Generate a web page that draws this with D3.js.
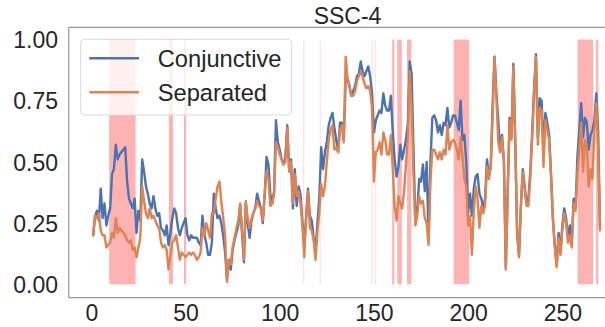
<!DOCTYPE html>
<html>
<head>
<meta charset="utf-8">
<script src="https://cdn.jsdelivr.net/npm/d3@7"></script>
<style>
  html, body { margin: 0; padding: 0; background: #fff; }
  svg { display: block; font-family: "Liberation Sans", Arial, sans-serif; }
</style>
</head>
<body>
<svg id="chart" width="605" height="327"></svg>
<script>
// SSC-4 similarity scores per step, two model variants
const conjunctive = [
  0.20,0.28,0.30,0.26,0.39,0.27,0.33,0.24,0.28,0.31,
  0.45,0.47,0.57,0.51,0.53,0.54,0.55,0.56,0.42,0.35,
  0.33,0.31,0.35,0.21,0.30,0.26,0.51,0.46,0.40,0.37,
  0.33,0.31,0.36,0.31,0.28,0.29,0.23,0.22,0.20,0.24,
  0.16,0.21,0.27,0.31,0.29,0.23,0.20,0.23,0.25,0.27,
  0.20,0.18,0.20,0.19,0.19,0.19,0.17,0.16,0.28,0.20,
  0.17,0.12,0.12,0.17,0.37,0.31,0.27,0.28,0.25,0.20,
  0.13,0.02,0.10,0.06,0.14,0.18,0.21,0.24,0.32,0.21,
  0.09,0.33,0.25,0.19,0.26,0.29,0.31,0.37,0.34,0.31,
  0.25,0.36,0.52,0.49,0.37,0.33,0.38,0.67,0.58,0.55,
  0.51,0.49,0.52,0.65,0.47,0.51,0.31,0.47,0.32,0.40,
  0.37,0.26,0.16,0.27,0.39,0.28,0.26,0.19,0.13,0.25,
  0.35,0.56,0.47,0.54,0.58,0.65,0.68,0.70,0.64,0.59,
  0.54,0.66,0.66,0.59,0.84,0.84,0.81,0.77,0.79,0.81,
  0.85,0.86,0.91,0.87,0.85,0.87,0.89,0.85,0.78,0.62,
  0.67,0.69,0.71,0.70,0.78,0.73,0.71,0.71,0.77,0.62,
  0.51,0.44,0.48,0.57,0.51,0.55,0.59,0.66,0.91,0.86,
  0.55,0.25,0.30,0.43,0.42,0.49,0.38,0.50,0.18,0.50,
  0.68,0.69,0.67,0.62,0.65,0.61,0.66,0.65,0.72,0.64,
  0.66,0.69,0.69,0.66,0.63,0.75,0.59,0.61,0.50,0.29,
  0.37,0.28,0.39,0.44,0.45,0.37,0.35,0.31,0.35,0.51,
  0.44,0.48,0.73,0.93,0.78,0.67,0.54,0.61,0.50,0.07,
  0.38,0.68,0.60,0.90,0.59,0.21,0.12,0.32,0.47,0.40,
  0.33,0.35,0.46,0.62,0.80,0.94,0.60,0.76,0.75,0.55,
  0.70,0.66,0.61,0.45,0.27,0.16,0.08,0.21,0.13,0.24,
  0.31,0.27,0.19,0.24,0.17,0.35,0.31,0.52,0.63,0.74,
  0.60,0.68,0.66,0.55,0.61,0.63,0.67,0.78,0.63,0.23
];

const separated = [
  0.20,0.28,0.27,0.29,0.22,0.20,0.20,0.15,0.16,0.17,
  0.21,0.19,0.27,0.21,0.23,0.22,0.21,0.20,0.18,0.17,
  0.18,0.14,0.15,0.11,0.15,0.19,0.40,0.34,0.29,0.27,
  0.31,0.27,0.28,0.26,0.24,0.23,0.17,0.15,0.16,0.14,
  0.06,0.12,0.17,0.18,0.20,0.15,0.10,0.13,0.12,0.11,
  0.12,0.13,0.12,0.13,0.12,0.10,0.11,0.13,0.23,0.20,
  0.25,0.22,0.19,0.29,0.29,0.35,0.40,0.42,0.34,0.27,
  0.20,0.01,0.10,0.08,0.15,0.19,0.23,0.26,0.33,0.22,
  0.10,0.34,0.27,0.23,0.27,0.29,0.31,0.34,0.32,0.31,
  0.26,0.37,0.46,0.43,0.32,0.33,0.37,0.58,0.56,0.53,
  0.51,0.49,0.50,0.64,0.46,0.50,0.33,0.45,0.36,0.38,
  0.33,0.25,0.11,0.27,0.38,0.23,0.22,0.18,0.10,0.21,
  0.29,0.41,0.36,0.40,0.50,0.59,0.63,0.65,0.55,0.56,
  0.54,0.63,0.65,0.58,0.93,0.84,0.81,0.77,0.77,0.79,
  0.83,0.85,0.87,0.85,0.82,0.80,0.81,0.79,0.72,0.42,
  0.54,0.55,0.58,0.53,0.62,0.59,0.53,0.53,0.61,0.47,
  0.32,0.26,0.36,0.33,0.31,0.38,0.49,0.60,0.87,0.72,
  0.45,0.24,0.28,0.36,0.33,0.34,0.27,0.25,0.16,0.42,
  0.55,0.55,0.53,0.51,0.54,0.51,0.55,0.53,0.65,0.55,
  0.58,0.59,0.58,0.55,0.51,0.60,0.52,0.43,0.40,0.24,
  0.28,0.12,0.30,0.40,0.35,0.23,0.32,0.29,0.32,0.48,
  0.43,0.48,0.69,0.93,0.76,0.58,0.54,0.60,0.50,0.06,
  0.37,0.67,0.59,0.89,0.58,0.21,0.11,0.32,0.46,0.39,
  0.32,0.32,0.44,0.60,0.78,0.93,0.57,0.72,0.71,0.48,
  0.67,0.63,0.59,0.44,0.26,0.15,0.07,0.19,0.12,0.22,
  0.29,0.25,0.17,0.20,0.15,0.33,0.30,0.45,0.55,0.66,
  0.46,0.59,0.56,0.40,0.47,0.43,0.62,0.74,0.55,0.22
];

// step numbers 1..N
const steps = conjunctive.map((_, i) => i + 1);

// highlighted step ranges
const flagBands = [
  [9.5, 23.5], [41.2, 43.4], [49.2, 50.3],
  [159.7, 160.8], [162.4, 164.8], [167.6, 169.9],
  [192.3, 200.6], [258.1, 266.3], [267.9, 269.1]
];
// single flagged steps (zero-width spans)
const faintMarks = [112.7, 121.5, 149.0, 150.7];

const xTicks = [0, 50, 100, 150, 200, 250];
const yTicks = [0, 0.25, 0.5, 0.75, 1.0];
const seriesNames = ["Conjunctive", "Separated"];
const colors = ["#4c72b0", "#dd8452"];
const titleText = "SSC-4";

const svg = d3.select("#chart");
const plot = { left: 68.7, right: 626.4, top: 27.3, bottom: 297.7 };

const x = d3.scaleLinear().domain([-12, 284]).range([plot.left, plot.right]);
const y = d3.scaleLinear().domain([-0.055, 1.05]).range([plot.bottom, plot.top]);

// highlighted spans
const bandG = svg.append("g");
bandG.selectAll("rect.band").data(flagBands).join("rect")
  .attr("class", "band")
  .attr("x", d => x(d[0]))
  .attr("width", d => x(d[1]) - x(d[0]))
  .attr("y", y(1))
  .attr("height", y(0) - y(1))
  .attr("fill", "#ff0000")
  .attr("fill-opacity", 0.3);
bandG.selectAll("rect.mark").data(faintMarks).join("rect")
  .attr("class", "mark")
  .attr("x", d => x(d) - 0.6)
  .attr("width", 1.2)
  .attr("y", y(1))
  .attr("height", y(0) - y(1))
  .attr("fill", "#ff0000")
  .attr("fill-opacity", 0.12);

// series lines
const series = [conjunctive, separated];
const line = d3.line()
  .x((d, i) => x(steps[i]))
  .y(d => y(d));
svg.append("g").selectAll("path").data(series).join("path")
  .attr("d", d => line(d))
  .attr("fill", "none")
  .attr("stroke", (d, i) => colors[i])
  .attr("stroke-width", 2.4)
  .attr("stroke-linejoin", "round")
  .attr("stroke-linecap", "round");

// frame
const spine = "#999999";
svg.append("line").attr("x1", plot.left).attr("x2", plot.left)
  .attr("y1", plot.top).attr("y2", plot.bottom)
  .attr("stroke", spine).attr("stroke-width", 1.25);
svg.append("line").attr("x1", plot.left).attr("x2", plot.right)
  .attr("y1", plot.bottom).attr("y2", plot.bottom)
  .attr("stroke", spine).attr("stroke-width", 1.25);
svg.append("line").attr("x1", plot.left).attr("x2", plot.right)
  .attr("y1", plot.top).attr("y2", plot.top)
  .attr("stroke", spine).attr("stroke-width", 1.25);
svg.append("line").attr("x1", plot.right).attr("x2", plot.right)
  .attr("y1", plot.top).attr("y2", plot.bottom)
  .attr("stroke", spine).attr("stroke-width", 1.25);

// axes (labels only, no tick marks)
const xAxis = d3.axisBottom(x).tickValues(xTicks).tickSize(0).tickPadding(0)
  .tickFormat(d3.format("d"));
const gx = svg.append("g").attr("transform", `translate(0,${plot.bottom})`).call(xAxis);
gx.select(".domain").remove();
gx.selectAll("text")
  .attr("y", 0).attr("dy", null)
  .attr("transform", "translate(0,23.3)")
  .style("font-size", "23px")
  .style("font-family", "'Liberation Sans', Arial, sans-serif")
  .attr("fill", "#262626");

const yAxis = d3.axisLeft(y).tickValues(yTicks).tickSize(0).tickPadding(0)
  .tickFormat(d3.format(".2f"));
const gy = svg.append("g").attr("transform", `translate(58,0)`).call(yAxis);
gy.select(".domain").remove();
gy.selectAll("text")
  .attr("x", 0).attr("dy", "0.36em")
  .style("font-size", "23px")
  .style("font-family", "'Liberation Sans', Arial, sans-serif")
  .attr("fill", "#262626");

// title
svg.append("text")
  .attr("x", (plot.left + plot.right) / 2)
  .attr("y", 24)
  .attr("text-anchor", "middle")
  .style("font-size", "23px")
  .attr("fill", "#262626")
  .text(titleText);

// legend
const lg = svg.append("g");
lg.append("rect")
  .attr("x", 80.7).attr("y", 39.3)
  .attr("width", 211).attr("height", 75.7)
  .attr("rx", 4).attr("ry", 4)
  .attr("fill", "#ffffff").attr("fill-opacity", 0.8)
  .attr("stroke", "#d9d9d9").attr("stroke-width", 1);
const rowY = [58.3, 92.3];
seriesNames.forEach((name, i) => {
  lg.append("line")
    .attr("x1", 89.3).attr("x2", 139)
    .attr("y1", rowY[i]).attr("y2", rowY[i])
    .attr("stroke", colors[i]).attr("stroke-width", 2.4);
  lg.append("text")
    .attr("x", 157.7).attr("y", rowY[i]).attr("dy", "0.35em")
    .style("font-size", "23.7px")
    .attr("fill", "#262626")
    .text(name);
});
</script>
</body>
</html>
